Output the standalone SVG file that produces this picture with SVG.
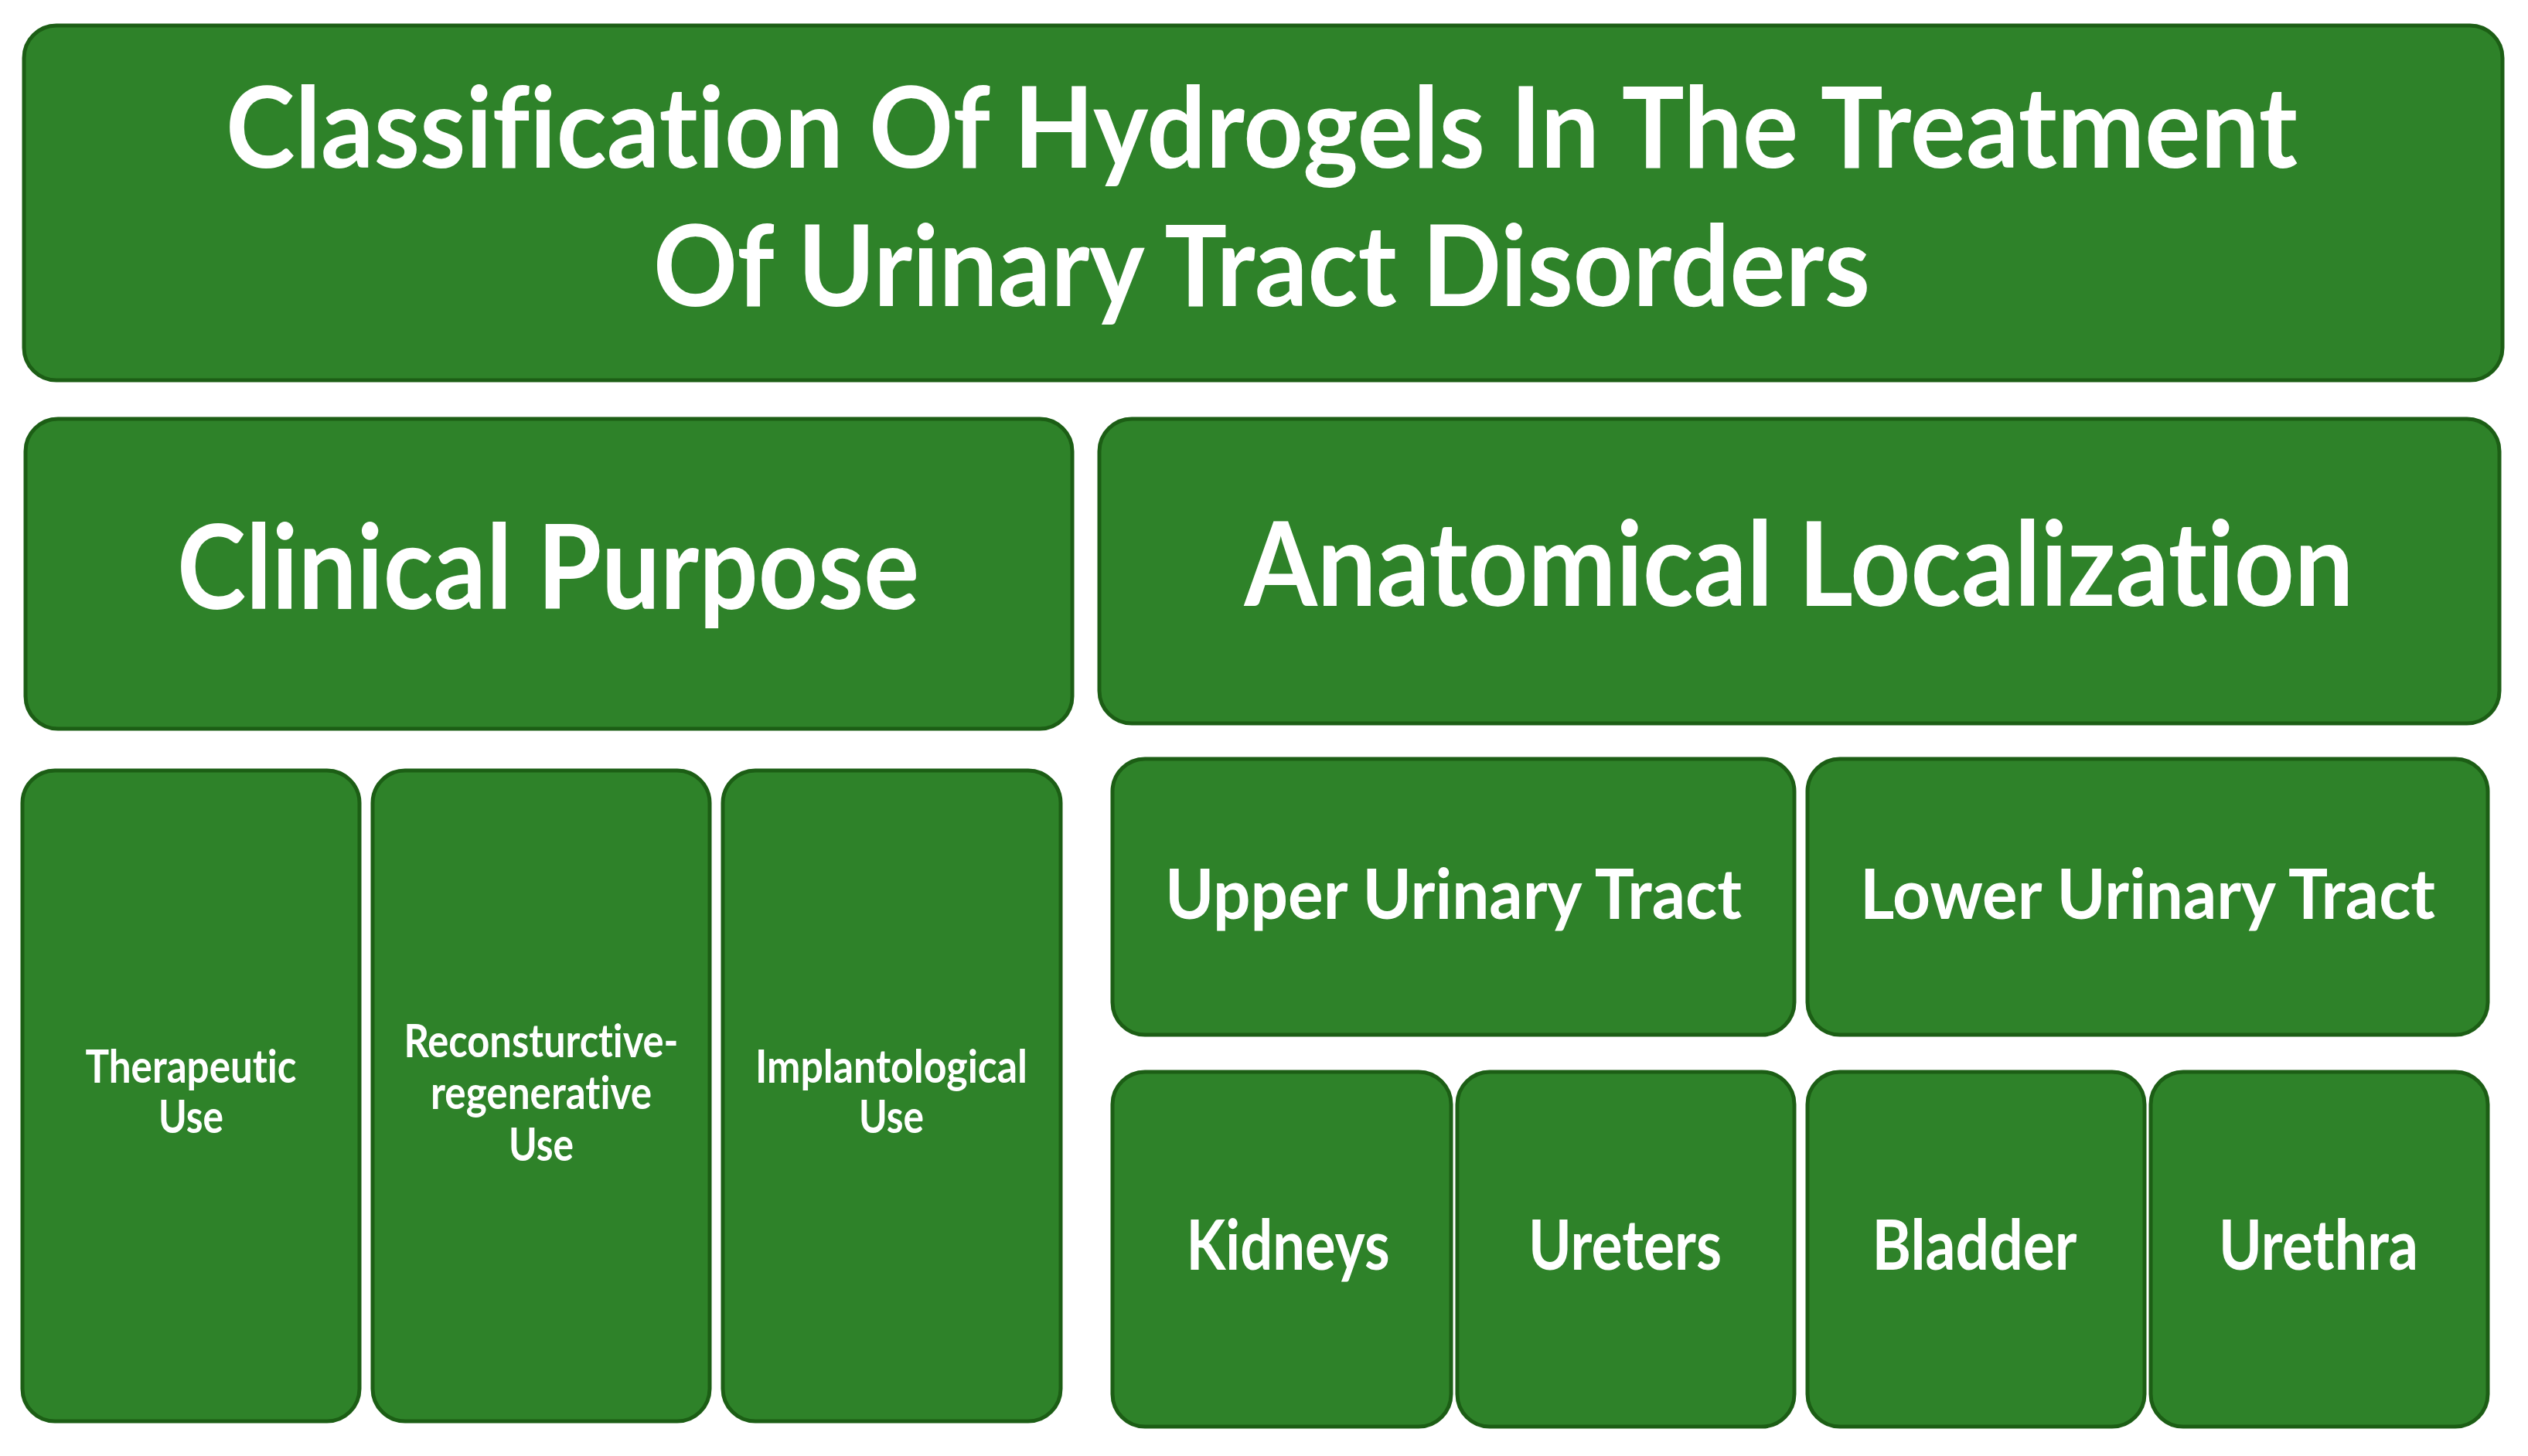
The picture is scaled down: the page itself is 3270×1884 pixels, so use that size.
<svg xmlns="http://www.w3.org/2000/svg" width="3270" height="1884" viewBox="0 0 3270 1884">
  <defs>
    <style>
      .box { fill: #2e8229; stroke: #1c5e15; stroke-width: 5; }
      .t { fill: #ffffff; font-family: Lato, "Open Sans", "Liberation Sans", sans-serif; font-weight: bold; text-anchor: middle; font-variant-ligatures: none; font-feature-settings: "liga" 0, "clig" 0; }
      .h1 { font-size: 146px; }
      .h2 { font-size: 152px; }
      .h3 { font-size: 90px; }
      .h4 { font-size: 60px; }
    </style>
  </defs>
  <rect width="3270" height="1884" fill="#ffffff"/>
  <g id="connectors"></g>

  <g id="title">
    <rect class="box" x="31" y="33" width="3206" height="459" rx="42"/>
    <text class="t h1" x="1632" y="217" textLength="2680" lengthAdjust="spacingAndGlyphs">Classification Of Hydrogels In The Treatment</text>
    <text class="t h1" x="1632" y="396" textLength="1574" lengthAdjust="spacingAndGlyphs">Of Urinary Tract Disorders</text>
  </g>

  <g id="clinical-purpose">
    <rect class="box" x="33" y="542" width="1354" height="401" rx="42"/>
    <text class="t h2" x="709" y="788" textLength="960" lengthAdjust="spacingAndGlyphs">Clinical Purpose</text>
  </g>

  <g id="anatomical-localization">
    <rect class="box" x="1422" y="542" width="1811" height="394" rx="42"/>
    <text class="t h2" x="2327" y="784" textLength="1435" lengthAdjust="spacingAndGlyphs">Anatomical Localization</text>
  </g>

  <g id="therapeutic-use">
    <rect class="box" x="29" y="997" width="436" height="842" rx="42"/>
    <text class="t h4" x="247" y="1401" textLength="273" lengthAdjust="spacingAndGlyphs">Therapeutic</text>
    <text class="t h4" x="247" y="1466" textLength="84" lengthAdjust="spacingAndGlyphs">Use</text>
  </g>

  <g id="reconstructive-use">
    <rect class="box" x="482" y="997" width="436" height="842" rx="42"/>
    <text class="t h4" x="700" y="1368" textLength="355" lengthAdjust="spacingAndGlyphs">Reconsturctive-</text>
    <text class="t h4" x="700" y="1435" textLength="286" lengthAdjust="spacingAndGlyphs">regenerative</text>
    <text class="t h4" x="700" y="1502" textLength="84" lengthAdjust="spacingAndGlyphs">Use</text>
  </g>

  <g id="implantological-use">
    <rect class="box" x="935" y="997" width="437" height="842" rx="42"/>
    <text class="t h4" x="1153" y="1401" textLength="352" lengthAdjust="spacingAndGlyphs">Implantological</text>
    <text class="t h4" x="1153" y="1466" textLength="84" lengthAdjust="spacingAndGlyphs">Use</text>
  </g>

  <g id="upper-urinary-tract">
    <rect class="box" x="1439" y="982" width="882" height="357" rx="42"/>
    <text class="t h3" x="1880" y="1189" textLength="746" lengthAdjust="spacingAndGlyphs">Upper Urinary Tract</text>
  </g>

  <g id="lower-urinary-tract">
    <rect class="box" x="2338" y="982" width="880" height="357" rx="42"/>
    <text class="t h3" x="2778" y="1189" textLength="744" lengthAdjust="spacingAndGlyphs">Lower Urinary Tract</text>
  </g>

  <g id="kidneys">
    <rect class="box" x="1439" y="1387" width="438" height="459" rx="42"/>
    <text class="t h3" x="1666" y="1643" textLength="263" lengthAdjust="spacingAndGlyphs">Kidneys</text>
  </g>

  <g id="ureters">
    <rect class="box" x="1885" y="1387" width="436" height="459" rx="42"/>
    <text class="t h3" x="2102" y="1643" textLength="250" lengthAdjust="spacingAndGlyphs">Ureters</text>
  </g>

  <g id="bladder">
    <rect class="box" x="2338" y="1387" width="436" height="459" rx="42"/>
    <text class="t h3" x="2554" y="1643" textLength="265" lengthAdjust="spacingAndGlyphs">Bladder</text>
  </g>

  <g id="urethra">
    <rect class="box" x="2782" y="1387" width="436" height="459" rx="42"/>
    <text class="t h3" x="2999" y="1643" textLength="258" lengthAdjust="spacingAndGlyphs">Urethra</text>
  </g>
</svg>
